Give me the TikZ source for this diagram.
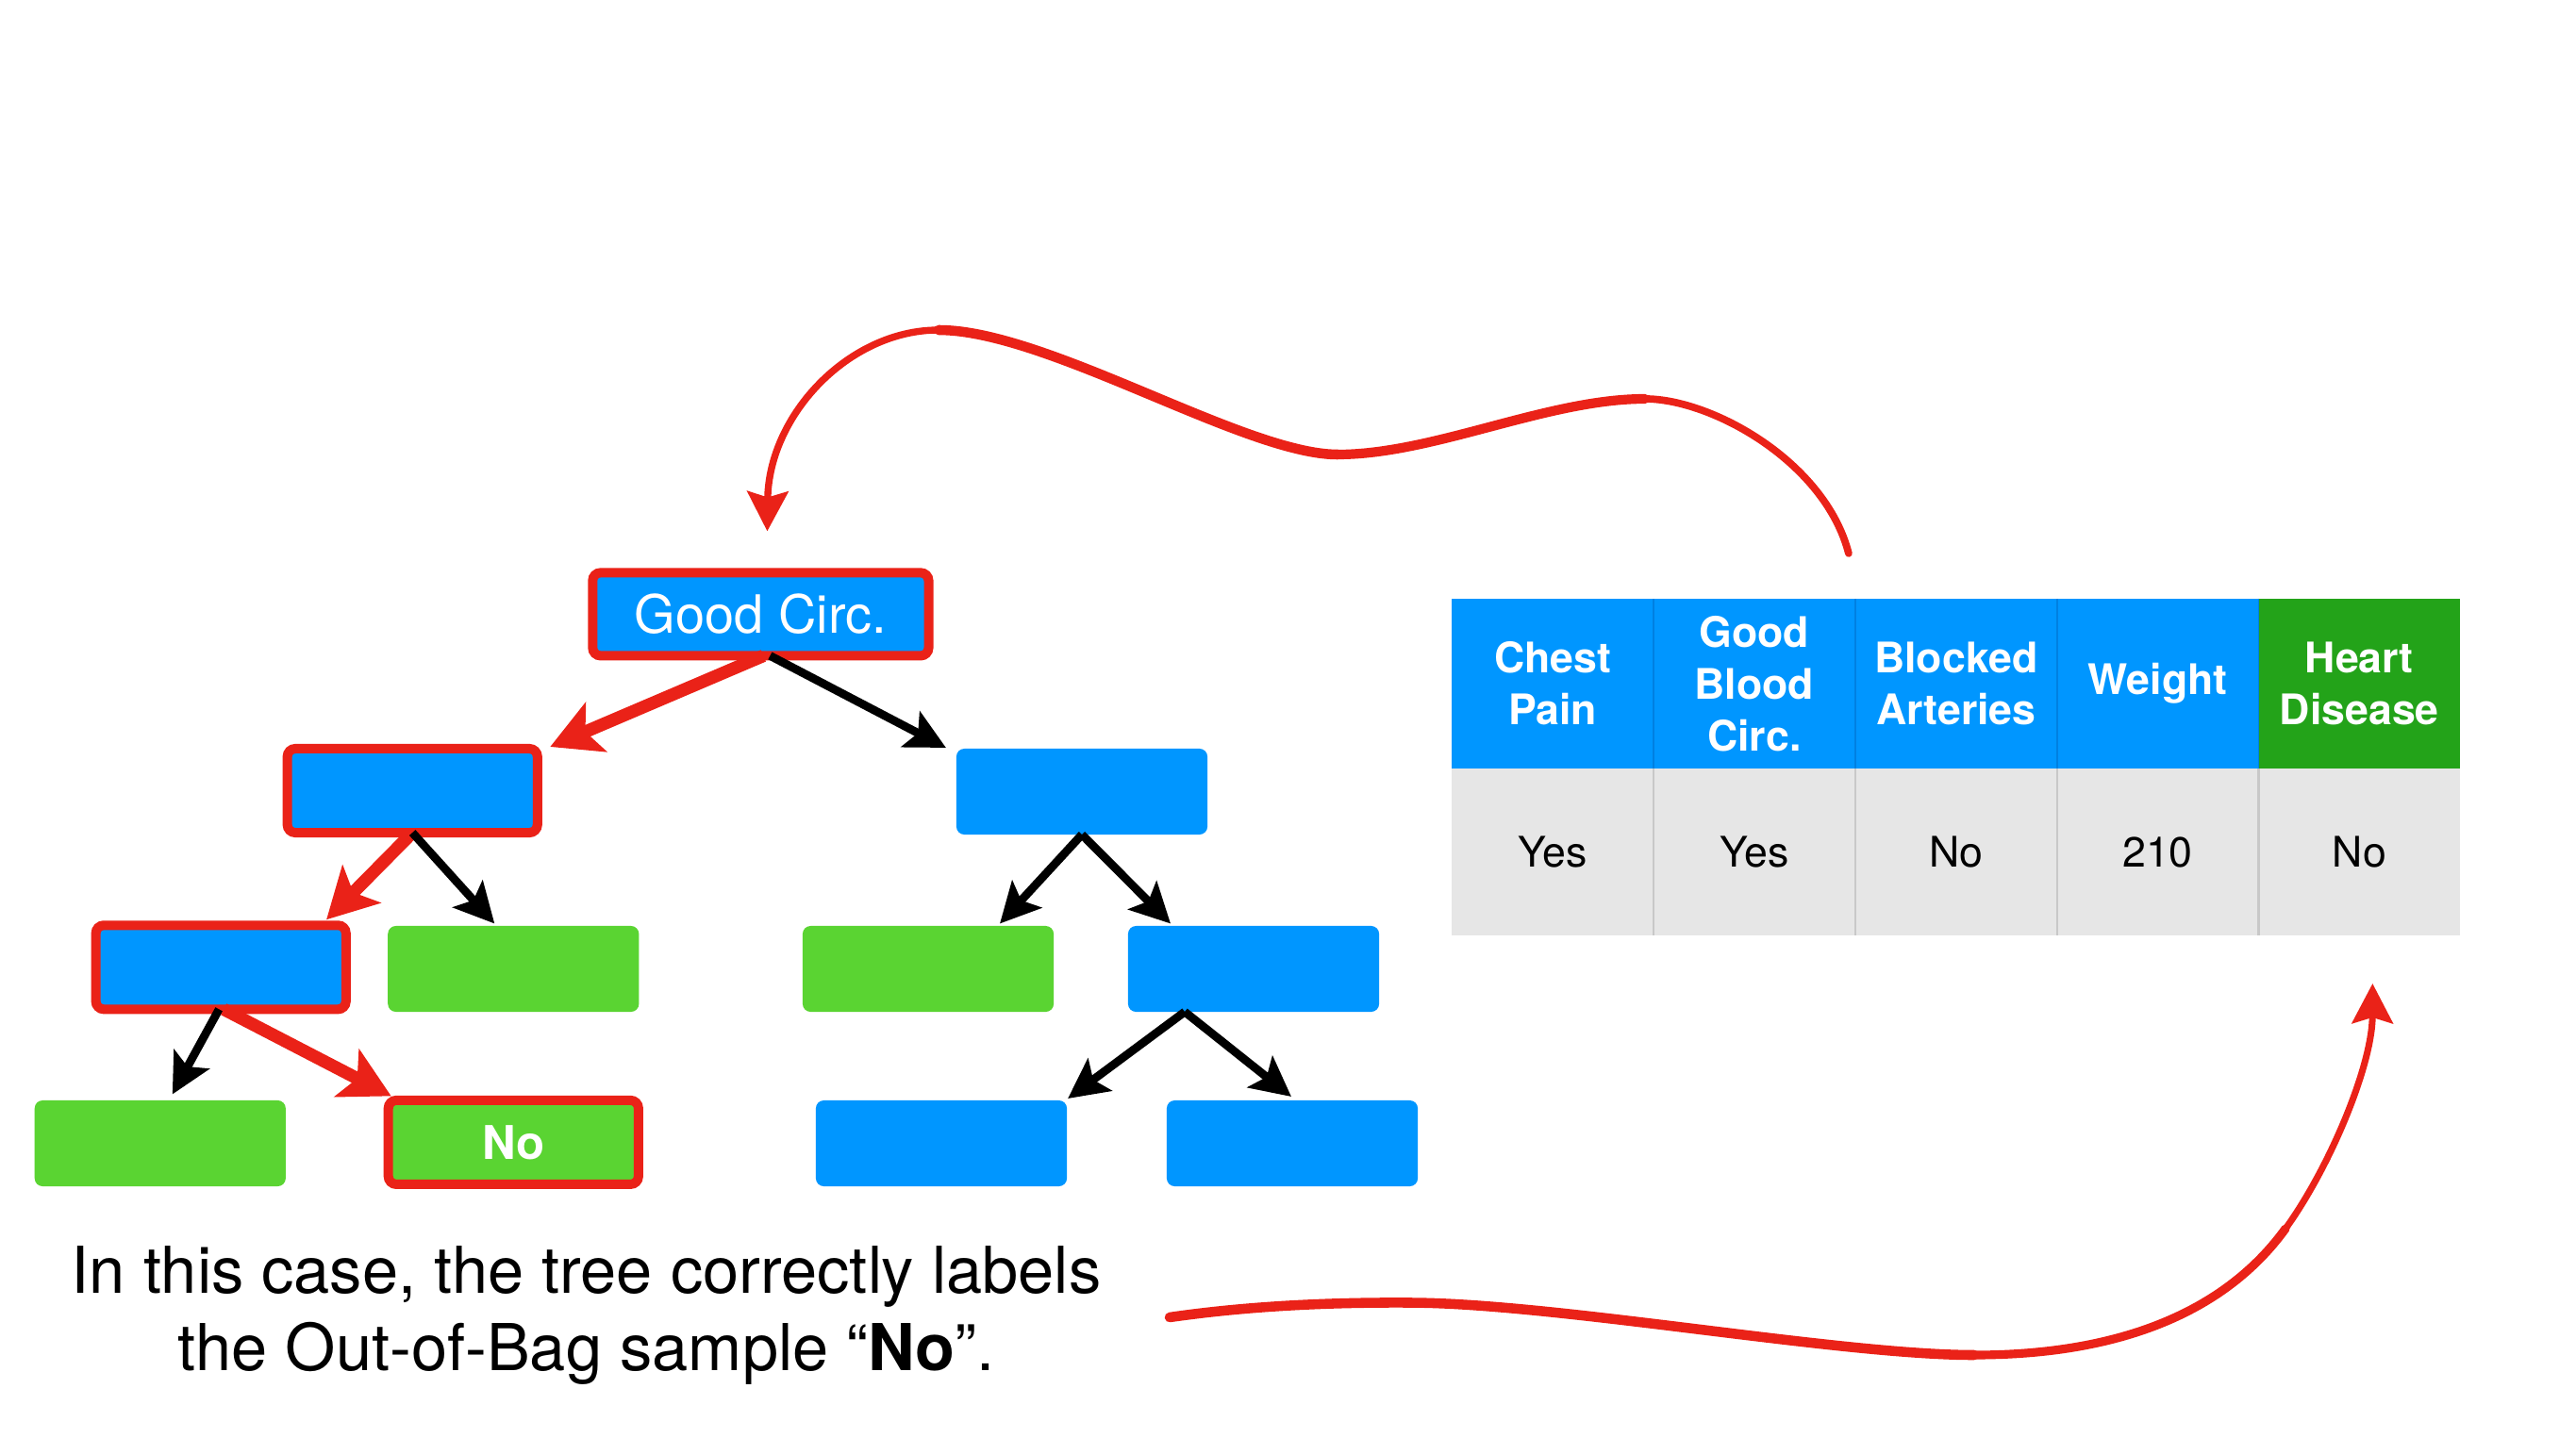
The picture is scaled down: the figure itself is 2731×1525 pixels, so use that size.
\documentclass[tikz,border=0pt]{standalone}
\usepackage{fontspec}
\setmainfont{TeX Gyre Heros}
\usetikzlibrary{arrows.meta,calc}
\definecolor{tblue}{RGB}{0,150,255}
\definecolor{tgreen}{RGB}{90,212,50}
\definecolor{hgreen}{RGB}{35,163,25}
\definecolor{tred}{RGB}{234,34,24}
\definecolor{tgray}{RGB}{230,230,230}
\definecolor{sepgray}{RGB}{200,200,200}
\definecolor{sepblue}{RGB}{0,128,225}
\begin{document}
\begin{tikzpicture}[x=0.01cm,y=-0.01cm,
  box/.style={rectangle, rounded corners=2.4pt, minimum width=2.66cm, minimum height=0.91cm, inner sep=0pt, outer sep=0pt, text=white},
  bluebox/.style={box, fill=tblue},
  greenbox/.style={box, fill=tgreen},
  ring/.style={draw=tred, line width=2.85pt, minimum width=2.65cm, minimum height=0.89cm},
  blackarrow/.style={draw=black, line width=2.5pt, -{Stealth[length=12pt,width=12pt,inset=2.5pt]}},
  redarrow/.style={draw=tred, line width=3.8pt, -{Stealth[length=15pt,width=16pt,inset=3.5pt]}},
  hcell/.style={rectangle, minimum width=2.138cm, minimum height=1.8cm, inner sep=0pt, outer sep=0pt, text=white, align=center, font=\bfseries\fontsize{12.7pt}{15.6pt}\selectfont},
  dcell/.style={rectangle, fill=tgray, minimum width=2.138cm, minimum height=1.77cm, inner sep=0pt, outer sep=0pt, font=\fontsize{12.7pt}{15.6pt}\selectfont},
  redcurve/.style={draw=tred, line cap=round},
  curvetip/.style={-{Stealth[length=12pt,width=12.3pt,inset=1.8pt]}},
  caption/.style={anchor=base, font=\fontsize{19.5pt}{23pt}\selectfont}
]
\fill[white] (0,0) rectangle (2731,1525);
\useasboundingbox (0,0) rectangle (2731,1525);

% tree nodes
\node[bluebox, ring, minimum width=3.56cm, minimum height=0.88cm, font=\fontsize{15.9pt}{19pt}\selectfont] (root) at (806.4,651.4) {Good Circ.};
\node[bluebox, ring] (l1l) at (437.2,838.5) {};
\node[bluebox] (l1r) at (1147,839.5) {};
\node[bluebox, ring] (l2a) at (234.2,1025.8) {};
\node[greenbox] (l2b) at (544.3,1027.5) {};
\node[greenbox] (l2c) at (984,1027.5) {};
\node[bluebox] (l2d) at (1329,1027.5) {};
\node[greenbox] (l3a) at (169.8,1212.5) {};
\node[greenbox, ring, font=\bfseries\fontsize{14pt}{16pt}\selectfont] (l3b) at (544.3,1211.4) {No};
\node[bluebox] (l3c) at (998,1212.5) {};
\node[bluebox] (l3d) at (1370,1212.5) {};

% tree connectors
\draw[redarrow] ($(root.south)+(3,0)$) -- ($(l1l.north east)+(13.5,-2)$);
\draw[blackarrow] ($(root.south)+(10,0)$) -- ($(l1r.north west)+(-11,-1)$);
\draw[redarrow] (l1l.south) -- ($(l2a.north east)+(-20.7,-6)$);
\draw[blackarrow] (l1l.south) -- ($(l2b.north)+(-20,-2.5)$);
\draw[blackarrow] (l1r.south) -- ($(l2c.north)+(76,-2.5)$);
\draw[blackarrow] (l1r.south) -- ($(l2d.north)+(-88,-2.5)$);
\draw[blackarrow] ($(l2a.south)+(-2,0)$) -- ($(l3a.north)+(13,-6.5)$);
\draw[redarrow] ($(l2a.south)+(3,0)$) -- ($(l3b.north west)+(3,-4.5)$);
\draw[blackarrow] ($(l2d.south)+(-73,0)$) -- ($(l3c.north east)+(1,-2)$);
\draw[blackarrow] ($(l2d.south)+(-73,0)$) -- ($(l3d.north)+(-1,-4)$);

% table
\node[hcell, fill=tblue] (h1) at (1646.1,725) {Chest\\Pain};
\node[hcell, fill=tblue] (h2) at (1859.9,725) {Good\\Blood\\Circ.};
\node[hcell, fill=tblue] (h3) at (2073.7,725) {Blocked\\Arteries};
\node[hcell, fill=tblue] (h4) at (2287.5,725) {Weight};
\node[hcell, fill=hgreen] (h5) at (2501.3,725) {Heart\\Disease};
\node[dcell] (d1) at (1646.1,903.5) {Yes};
\node[dcell] (d2) at (1859.9,903.5) {Yes};
\node[dcell] (d3) at (2073.7,903.5) {No};
\node[dcell] (d4) at (2287.5,903.5) {210};
\node[dcell] (d5) at (2501.3,903.5) {No};
\foreach \i in {1,...,4} {
  \draw[sepblue, line width=0.5pt] (h\i.north east) -- (h\i.south east);
  \draw[sepgray, line width=0.6pt] (d\i.north east) -- (d\i.south east);
}

% top curved arrow: table -> root
\coordinate (ts) at ($(h2.north east)+(-7,-48)$);
\coordinate (tp1) at (1744,423);
\coordinate (tv) at (1418,482);
\coordinate (tp2) at (995,350);
\coordinate (tt) at ($(root.north)+(7,-44)$);
\draw[redcurve, line width=2.2pt] (ts) .. controls (1935,490) and (1815,423) .. (tp1);
\draw[redcurve, line width=2.9pt] (tp1) .. controls (1640,423) and (1520,482) .. (tv);
\draw[redcurve, line width=3.0pt] (tv) .. controls (1320,482) and (1110,350) .. (tp2);
\draw[redcurve, line width=2.1pt, curvetip] (tp2) .. controls (900,350) and (815,440) .. (tt);

% caption
\node[caption] (cap1) at (621.6,1371.7) {In this case, the tree correctly labels};
\node[caption] (cap2) at (621.6,1453.3) {the Out-of-Bag sample “\textbf{No}”.};

% bottom curved arrow: caption -> table
\coordinate (bs) at (1240,1397);
\coordinate (bp) at (1495,1381.5);
\coordinate (bv) at (2093,1437);
\coordinate (bm) at (2423,1303);
\coordinate (bt) at ($(d5.south)+(14,51)$);
\draw[redcurve, line width=3.0pt] (bs) .. controls (1330,1384) and (1420,1381) .. (bp);
\draw[redcurve, line width=3.0pt] (bp) .. controls (1650,1382) and (1950,1437) .. (bv);
\draw[redcurve, line width=2.6pt] (bv) .. controls (2250,1437) and (2360,1390) .. (bm);
\draw[redcurve, line width=2.0pt, curvetip] (bm) .. controls (2470,1238) and (2515,1130) .. (bt);
\end{tikzpicture}
\end{document}
